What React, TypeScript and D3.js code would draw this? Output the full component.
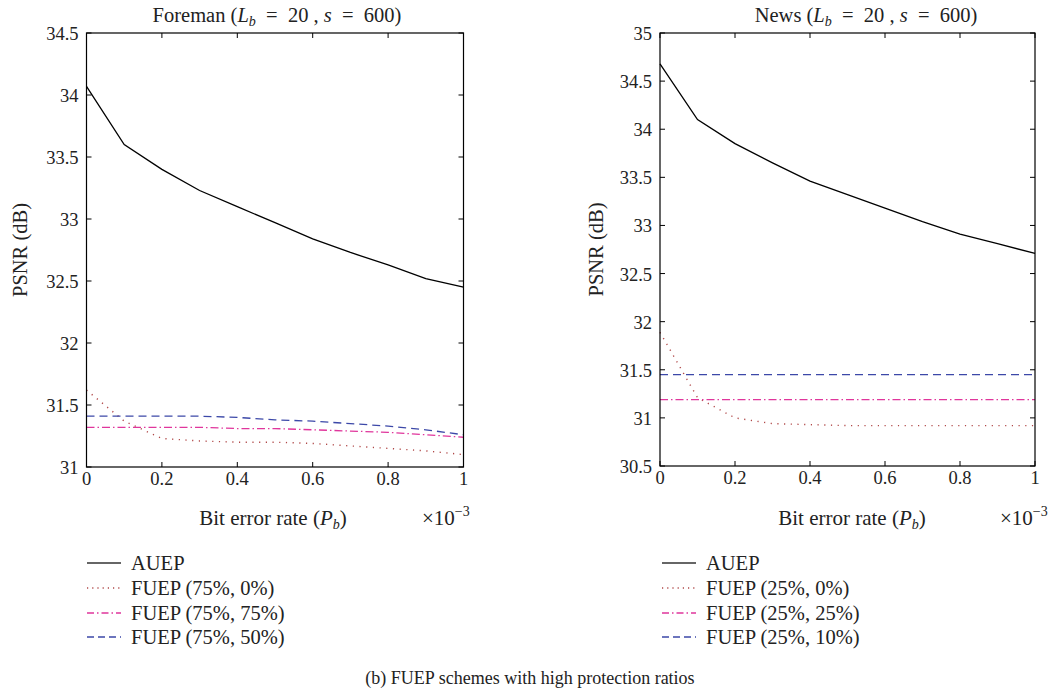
import React from "react";
import * as d3 from "d3";

// Bit error rate samples (in units of 1e-3)
const berValues = [0, 0.1, 0.2, 0.3, 0.4, 0.5, 0.6, 0.7, 0.8, 0.9, 1.0];
const xTickValues = [0, 0.2, 0.4, 0.6, 0.8, 1];
const xTickLabels = ["0", "0.2", "0.4", "0.6", "0.8", "1"];

// Foreman sequence PSNR (dB)
const foremanAUEP = [34.07, 33.6, 33.4, 33.23, 33.1, 32.97, 32.84, 32.73, 32.63, 32.52, 32.45];
const foremanFUEP75_0 = [31.62, 31.37, 31.23, 31.21, 31.2, 31.2, 31.19, 31.17, 31.15, 31.13, 31.1];
const foremanFUEP75_75 = [31.32, 31.32, 31.32, 31.32, 31.31, 31.31, 31.3, 31.29, 31.28, 31.26, 31.24];
const foremanFUEP75_50 = [31.41, 31.41, 31.41, 31.41, 31.4, 31.38, 31.37, 31.35, 31.33, 31.3, 31.26];
const foremanYTicks = [31, 31.5, 32, 32.5, 33, 33.5, 34, 34.5];
const foremanLegend = ["AUEP", "FUEP (75%, 0%)", "FUEP (75%, 75%)", "FUEP (75%, 50%)"];

// News sequence PSNR (dB)
const newsAUEP = [34.68, 34.1, 33.85, 33.65, 33.46, 33.32, 33.18, 33.04, 32.91, 32.81, 32.71];
const newsFUEP25_0 = [31.89, 31.21, 31.0, 30.94, 30.93, 30.92, 30.92, 30.92, 30.92, 30.92, 30.92];
const newsFUEP25_25 = [31.19, 31.19, 31.19, 31.19, 31.19, 31.19, 31.19, 31.19, 31.19, 31.19, 31.19];
const newsFUEP25_10 = [31.45, 31.45, 31.45, 31.45, 31.45, 31.45, 31.45, 31.45, 31.45, 31.45, 31.45];
const newsYTicks = [30.5, 31, 31.5, 32, 32.5, 33, 33.5, 34, 34.5, 35];
const newsLegend = ["AUEP", "FUEP (25%, 0%)", "FUEP (25%, 25%)", "FUEP (25%, 10%)"];

const FONT = "'Liberation Serif', 'Times New Roman', serif";
const SP = "\u2002"; // math-style spacing around "="

type LineStyle = { color: string; dash: string; width: number };
const styles: LineStyle[] = [
  { color: "#000000", dash: "none", width: 1.3 },
  { color: "#b04848", dash: "1.2 5.5", width: 1.4 },
  { color: "#e0369c", dash: "8 3 1.5 3", width: 1.3 },
  { color: "#3c48a8", dash: "8 5", width: 1.3 },
];

type PanelProps = {
  x0: number;
  x1: number;
  y0: number;
  y1: number;
  yDomain: [number, number];
  yTicks: number[];
  series: number[][];
  titleName: string;
  titleX: number;
  yLabelX: number;
  xLabelX: number;
  expX: number;
  legendX: number;
  legendLabels: string[];
};

function Panel(p: PanelProps) {
  const x = d3.scaleLinear().domain([0, 1]).range([p.x0, p.x1]);
  const y = d3.scaleLinear().domain(p.yDomain).range([p.y1, p.y0]);
  const line = d3
    .line<number>()
    .x((_, i) => x(berValues[i]))
    .y((d) => y(d));
  const tl = 5;
  const legendRows = [563, 588, 613, 637];
  return (
    <g>
      {/* curves */}
      {p.series.map((s, i) => (
        <path
          key={i}
          d={line(s) || ""}
          fill="none"
          stroke={styles[i].color}
          strokeWidth={styles[i].width}
          strokeDasharray={styles[i].dash}
        />
      ))}
      {/* axes box */}
      <rect x={p.x0} y={p.y0} width={p.x1 - p.x0} height={p.y1 - p.y0} fill="none" stroke="#000" strokeWidth={1.2} />
      {/* y ticks */}
      {p.yTicks.map((t) => (
        <g key={"y" + t}>
          <line x1={p.x0} x2={p.x0 + tl} y1={y(t)} y2={y(t)} stroke="#000" strokeWidth={1} />
          <line x1={p.x1} x2={p.x1 - tl} y1={y(t)} y2={y(t)} stroke="#000" strokeWidth={1} />
          <text x={p.x0 - 8} y={y(t) + 7} textAnchor="end" fontSize={18.5} fontFamily={FONT} fill="#222">
            {String(t)}
          </text>
        </g>
      ))}
      {/* x ticks */}
      {xTickValues.map((t, i) => (
        <g key={"x" + t}>
          <line x1={x(t)} x2={x(t)} y1={p.y1} y2={p.y1 - tl} stroke="#000" strokeWidth={1} />
          <line x1={x(t)} x2={x(t)} y1={p.y0} y2={p.y0 + tl} stroke="#000" strokeWidth={1} />
          <text x={x(t)} y={p.y1 + 18} textAnchor="middle" fontSize={18.5} fontFamily={FONT} fill="#222">
            {xTickLabels[i]}
          </text>
        </g>
      ))}
      {/* title */}
      <text x={p.titleX} y={22} textAnchor="middle" fontSize={20.5} fontFamily={FONT} fill="#222" xmlSpace="preserve">
        {p.titleName} (<tspan fontStyle="italic">L</tspan>
        <tspan fontStyle="italic" fontSize={14} dy={4}>b</tspan>
        <tspan dy={-4}>{`${SP}=${SP}20 , `}</tspan>
        <tspan fontStyle="italic">s</tspan>
        <tspan>{`${SP}=${SP}600)`}</tspan>
      </text>
      {/* y label */}
      <text
        transform={`translate(${p.yLabelX},${(p.y0 + p.y1) / 2}) rotate(-90)`}
        textAnchor="middle"
        fontSize={20.5}
        fontFamily={FONT}
        fill="#222"
      >
        PSNR (dB)
      </text>
      {/* x label */}
      <text x={p.xLabelX} y={525} textAnchor="middle" fontSize={21} fontFamily={FONT} fill="#222">
        Bit error rate (<tspan fontStyle="italic">P</tspan>
        <tspan fontStyle="italic" fontSize={14} dy={4}>b</tspan>
        <tspan dy={-4}>)</tspan>
      </text>
      <text x={p.expX} y={525} fontSize={21} fontFamily={FONT} fill="#222">
        ×10<tspan fontSize={14} dy={-9}>−3</tspan>
      </text>
      {/* legend */}
      {p.legendLabels.map((lab, i) => (
        <g key={lab}>
          <line
            x1={p.legendX}
            x2={p.legendX + 34}
            y1={legendRows[i]}
            y2={legendRows[i]}
            stroke={i === 0 ? "#333" : styles[i].color}
            strokeWidth={i === 0 ? 1.5 : 1.3}
            strokeDasharray={i === 1 ? "1.2 4" : i === 2 ? "7 3 1.5 3" : i === 3 ? "7 4" : "none"}
          />
          <text x={p.legendX + 44} y={legendRows[i] + 7} fontSize={20.5} fontFamily={FONT} fill="#222">
            {lab}
          </text>
        </g>
      ))}
    </g>
  );
}

export default function App() {
  return (
    <svg
      width={1058}
      height={690}
      style={{ position: "absolute", left: 0, top: 0, background: "#fff" }}
    >
      <rect width={1058} height={690} fill="#fff" />
      <Panel
        x0={86.5}
        x1={463.5}
        y0={33}
        y1={467}
        yDomain={[31, 34.5]}
        yTicks={foremanYTicks}
        series={[foremanAUEP, foremanFUEP75_0, foremanFUEP75_75, foremanFUEP75_50]}
        titleName="Foreman"
        titleX={277}
        yLabelX={27}
        xLabelX={273}
        expX={422}
        legendX={87}
        legendLabels={foremanLegend}
      />
      <Panel
        x0={660}
        x1={1035}
        y0={33}
        y1={466}
        yDomain={[30.5, 35]}
        yTicks={newsYTicks}
        series={[newsAUEP, newsFUEP25_0, newsFUEP25_25, newsFUEP25_10]}
        titleName="News"
        titleX={866}
        yLabelX={603}
        xLabelX={852}
        expX={1000}
        legendX={662}
        legendLabels={newsLegend}
      />
      <text x={530} y={684} textAnchor="middle" fontSize={18} fontFamily={FONT} fill="#222">
        (b) FUEP schemes with high protection ratios
      </text>
    </svg>
  );
}
